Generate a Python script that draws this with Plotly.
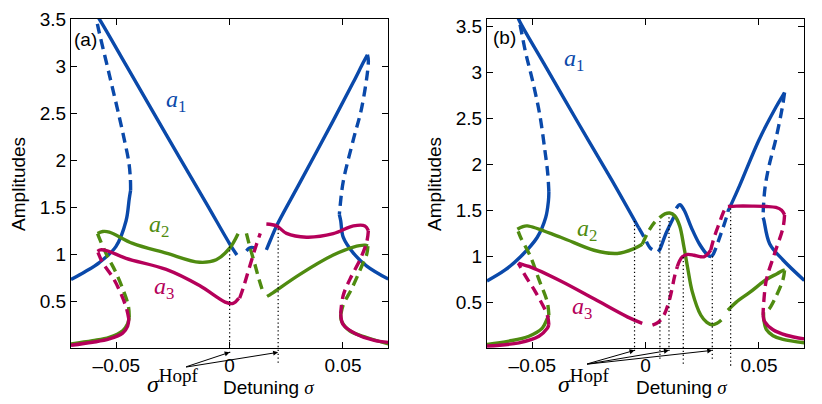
import plotly.graph_objects as go

# ---------------- colours ----------------
BLUE = "#0A49AA"
GREEN = "#4F8B10"
RED = "#B5005A"

# ---------------- panel (a) data : detuning sigma / amplitude ----------------
A_blue_low_left_sig = [-0.0700, -0.0640, -0.0575, -0.0502, -0.0457, -0.0443, -0.0437]
A_blue_low_left_amp = [0.73, 0.81, 0.91, 1.08, 1.355, 1.59, 1.68]
A_blue_unst_left_sig = [-0.0437, -0.0438, -0.0445, -0.0465, -0.0487, -0.0531, -0.0583, -0.0592]
A_blue_unst_left_amp = [1.68, 1.80, 1.98, 2.22, 2.46, 2.91, 3.44, 3.56]
A_blue_high_left_sig = [-0.0592, -0.0575, -0.0457, -0.0280, -0.0103, 0.0000, 0.0032]
A_blue_high_left_amp = [3.56, 3.50, 3.01, 2.27, 1.54, 1.11, 0.99]
A_blue_mid_sig = [0.0074, 0.0086, 0.0098, 0.0110, 0.0121]
A_blue_mid_amp = [1.035, 1.062, 1.072, 1.062, 1.035]
A_blue_high_right_sig = [0.0162, 0.0180, 0.0207, 0.0310, 0.0457, 0.0546, 0.0590, 0.0608]
A_blue_high_right_amp = [1.045, 1.15, 1.30, 1.76, 2.42, 2.83, 3.04, 3.12]
A_blue_unst_right_sig = [0.0608, 0.0612, 0.0583, 0.0546, 0.0501, 0.0487, 0.0484]
A_blue_unst_right_amp = [3.12, 3.05, 2.56, 2.22, 1.77, 1.50, 1.42]
A_blue_low_right_sig = [0.0484, 0.0490, 0.0501, 0.0546, 0.0605, 0.0700]
A_blue_low_right_amp = [1.42, 1.355, 1.18, 1.01, 0.873, 0.734]

A_green_low_left_sig = [-0.0700, -0.0605, -0.0531, -0.0472, -0.0450, -0.0443]
A_green_low_left_amp = [0.045, 0.079, 0.115, 0.185, 0.26, 0.33]
A_green_unst_left_sig = [-0.0443, -0.0447, -0.0470, -0.0505, -0.0540, -0.0570, -0.0583]
A_green_unst_left_amp = [0.33, 0.45, 0.62, 0.82, 0.98, 1.14, 1.22]
A_green_left_sig = [-0.0583, -0.0560, -0.0531, -0.0428, -0.0280, -0.0133, -0.0059, 0.0000, 0.0037]
A_green_left_amp = [1.22, 1.24, 1.234, 1.114, 1.01, 0.913, 0.94, 1.063, 1.217]
A_green_mid_sig = [0.0074, 0.0090, 0.0108, 0.0125, 0.0145]
A_green_mid_amp = [1.22, 1.07, 0.92, 0.77, 0.61]
A_green_right_sig = [0.0165, 0.0185, 0.0310, 0.0457, 0.0546, 0.0597, 0.0610]
A_green_right_amp = [0.55, 0.58, 0.785, 0.99, 1.075, 1.095, 1.085]
A_green_unst_right_sig = [0.0610, 0.0605, 0.0583, 0.0538, 0.0501, 0.0490]
A_green_unst_right_amp = [1.085, 1.00, 0.873, 0.63, 0.46, 0.355]
A_green_low_right_sig = [0.0490, 0.0494, 0.0531, 0.0605, 0.0700]
A_green_low_right_amp = [0.355, 0.286, 0.182, 0.113, 0.045]

A_red_low_left_sig = [-0.0700, -0.0605, -0.0531, -0.0472, -0.0450, -0.0445]
A_red_low_left_amp = [0.030, 0.062, 0.098, 0.160, 0.235, 0.31]
A_red_unst_left_sig = [-0.0445, -0.0455, -0.0480, -0.0515, -0.0560, -0.0583]
A_red_unst_left_amp = [0.31, 0.42, 0.58, 0.75, 0.907, 1.03]
A_red_left_sig = [-0.0583, -0.0570, -0.0540, -0.0457, -0.0280, -0.0133, -0.0020, 0.0015, 0.0040]
A_red_left_amp = [1.03, 1.045, 1.035, 0.955, 0.837, 0.665, 0.49, 0.475, 0.53]
A_red_mid_sig = [0.0044, 0.0060, 0.0080, 0.0100, 0.0118, 0.0135]
A_red_mid_amp = [0.53, 0.64, 0.80, 0.96, 1.10, 1.22]
A_red_right_sig = [0.0162, 0.0207, 0.0251, 0.0339, 0.0457, 0.0546, 0.0597, 0.0612]
A_red_right_amp = [1.32, 1.30, 1.22, 1.18, 1.217, 1.30, 1.30, 1.25]
A_red_unst_right_sig = [0.0612, 0.0605, 0.0575, 0.0531, 0.0501, 0.0490]
A_red_unst_right_amp = [1.25, 1.13, 0.94, 0.734, 0.56, 0.37]
A_red_low_right_sig = [0.0490, 0.0501, 0.0560, 0.0634, 0.0700]
A_red_low_right_amp = [0.37, 0.25, 0.148, 0.086, 0.061]

A_hopf_sig = [0.0, 0.0214]
A_hopf_amp = [1.10, 1.30]

# ---------------- panel (b) data ----------------
B_blue_low_left_sig = [-0.0700, -0.0620, -0.0552, -0.0478, -0.0441, -0.0429, -0.0427]
B_blue_low_left_amp = [0.73, 0.85, 0.994, 1.206, 1.42, 1.60, 1.70]
B_blue_unst_left_sig = [-0.0427, -0.0432, -0.0445, -0.0468, -0.0500, -0.0530, -0.0559, -0.0566]
B_blue_unst_left_amp = [1.70, 1.90, 2.16, 2.55, 2.92, 3.22, 3.57, 3.62]
B_blue_high_left_sig = [-0.0566, -0.0559, -0.0450, -0.0300, -0.0150, -0.0031]
B_blue_high_left_amp = [3.62, 3.57, 3.10, 2.46, 1.83, 1.31]
B_blue_mid_unst_sig = [-0.0031, -0.0005, 0.0020, 0.0050]
B_blue_mid_unst_amp = [1.31, 1.20, 1.09, 1.05]
B_blue_rise_sig = [0.0055, 0.0062, 0.0090, 0.0125]
B_blue_rise_amp = [1.05, 1.072, 1.25, 1.43]
B_blue_peak_sig = [0.0135, 0.0151, 0.0170, 0.0202, 0.0238, 0.0275, 0.0290]
B_blue_peak_amp = [1.52, 1.56, 1.50, 1.31, 1.13, 1.01, 0.995]
B_blue_v_unst_sig = [0.0290, 0.0300, 0.0327, 0.0356, 0.0363]
B_blue_v_unst_amp = [0.995, 1.03, 1.207, 1.42, 1.49]
B_blue_high_right_sig = [0.0363, 0.0383, 0.0415, 0.0500, 0.0574, 0.0603, 0.0613]
B_blue_high_right_amp = [1.49, 1.594, 1.77, 2.265, 2.618, 2.74, 2.78]
B_blue_unst_right_sig = [0.0613, 0.0603, 0.0574, 0.0544, 0.0527, 0.0520, 0.0518]
B_blue_unst_right_amp = [2.78, 2.62, 2.27, 1.98, 1.75, 1.55, 1.42]
B_blue_low_right_sig = [0.0518, 0.0521, 0.0547, 0.0606, 0.0700]
B_blue_low_right_amp = [1.42, 1.40, 1.136, 0.959, 0.737]

B_green_low_left_sig = [-0.0700, -0.0603, -0.0515, -0.0456, -0.0434, -0.0427]
B_green_low_left_amp = [0.041, 0.076, 0.129, 0.217, 0.323, 0.359]
B_green_unst_left_sig = [-0.0427, -0.0434, -0.0471, -0.0508, -0.0552, -0.0566]
B_green_unst_left_amp = [0.359, 0.50, 0.747, 0.995, 1.207, 1.294]
B_green_left_sig = [-0.0566, -0.0545, -0.0522, -0.0375, -0.0228, -0.0125, -0.0051, -0.0015]
B_green_left_amp = [1.294, 1.32, 1.33, 1.206, 1.065, 1.03, 1.083, 1.13]
B_green_mid_unst_sig = [-0.0015, 0.0010, 0.0040, 0.0062]
B_green_mid_unst_amp = [1.13, 1.26, 1.37, 1.42]
B_green_peak_sig = [0.0062, 0.0085, 0.0106, 0.0128, 0.0150, 0.0169, 0.0187, 0.0205, 0.0243, 0.0270, 0.0294, 0.0315, 0.0334]
B_green_peak_amp = [1.42, 1.46, 1.47, 1.44, 1.33, 1.10, 0.85, 0.62, 0.36, 0.28, 0.253, 0.27, 0.306]
B_green_right_sig = [0.0363, 0.0400, 0.0459, 0.0533, 0.0580, 0.0606, 0.0613]
B_green_right_amp = [0.412, 0.50, 0.606, 0.747, 0.81, 0.846, 0.846]
B_green_unst_right_sig = [0.0613, 0.0606, 0.0577, 0.0540, 0.0522]
B_green_unst_right_amp = [0.846, 0.747, 0.571, 0.412, 0.39]
B_green_low_right_sig = [0.0520, 0.0522, 0.0533, 0.0562, 0.0606, 0.0700]
B_green_low_right_amp = [0.39, 0.30, 0.20, 0.135, 0.094, 0.058]

B_red_low_left_sig = [-0.0700, -0.0559, -0.0471, -0.0434, -0.0427]
B_red_low_left_amp = [0.023, 0.058, 0.129, 0.217, 0.253]
B_red_unst_left_sig = [-0.0427, -0.0434, -0.0485, -0.0530, -0.0552, -0.0562]
B_red_unst_left_amp = [0.253, 0.359, 0.606, 0.783, 0.88, 0.924]
B_red_left_sig = [-0.0562, -0.0545, -0.0515, -0.0375, -0.0228, -0.0081, -0.0015]
B_red_left_amp = [0.924, 0.91, 0.889, 0.73, 0.536, 0.34, 0.27]
B_red_mid_unst_sig = [0.0030, 0.0055, 0.0081, 0.0106, 0.0128, 0.0140]
B_red_mid_unst_amp = [0.25, 0.28, 0.36, 0.535, 0.783, 0.889]
B_red_mid_sig = [0.0140, 0.0150, 0.0162, 0.0185, 0.0213, 0.0240, 0.0257, 0.0272, 0.0287]
B_red_mid_amp = [0.889, 0.95, 0.994, 1.02, 1.01, 0.995, 0.994, 1.02, 1.065]
B_red_v_unst_sig = [0.0287, 0.0297, 0.0310, 0.0325, 0.0340, 0.0352, 0.0363]
B_red_v_unst_amp = [1.065, 1.16, 1.26, 1.36, 1.46, 1.52, 1.54]
B_red_flat_sig = [0.0363, 0.0400, 0.0470, 0.0533, 0.0575, 0.0600, 0.0613]
B_red_flat_amp = [1.54, 1.545, 1.545, 1.541, 1.53, 1.50, 1.45]
B_red_unst_right_sig = [0.0613, 0.0606, 0.0569, 0.0533, 0.0521, 0.0518]
B_red_unst_right_amp = [1.45, 1.31, 1.03, 0.747, 0.50, 0.36]
B_red_low_right_sig = [0.0518, 0.0525, 0.0562, 0.0621, 0.0700]
B_red_low_right_amp = [0.36, 0.288, 0.20, 0.14, 0.10]

B_hopf_sig = [-0.0049, 0.0063, 0.0103, 0.0166, 0.0294, 0.0375]
B_hopf_amp = [1.40, 1.40, 1.45, 0.99, 1.00, 1.52]

X_TICKS = [-0.05, 0.0, 0.05]
X_TICK_TEXT = ["\u20130.05", "0", "0.05"]
Y_TICKS = [0.5, 1.0, 1.5, 2.0, 2.5, 3.0, 3.5]
Y_TICK_TEXT = ["0.5", "1", "1.5", "2", "2.5", "3", "3.5"]

# ---------------- layout geometry ----------------
W, H = 822, 404
XA_DOM = [71 / W, 388.3 / W]
XB_DOM = [487 / W, 804.3 / W]
Y_DOM = [1 - 346.7 / H, 1 - 9.3 / H]
X_RANGE = [-0.07, 0.07]
YA_RANGE = [0.0, 3.5]
YB_RANGE = [0.0, 3.58]

LW = 3.4
DASH = "10px,6px"

fig = go.Figure()


def add_branch(sig, amp, color, dashed, xa, ya):
    fig.add_trace(go.Scatter(
        x=sig, y=amp, mode="lines", xaxis=xa, yaxis=ya,
        line=dict(color=color, width=LW, dash=DASH if dashed else "solid",
                  shape="spline", smoothing=1.0),
        hoverinfo="skip", showlegend=False))


panel_a = [
    (A_blue_low_left_sig, A_blue_low_left_amp, BLUE, False),
    (A_blue_unst_left_sig, A_blue_unst_left_amp, BLUE, True),
    (A_blue_high_left_sig, A_blue_high_left_amp, BLUE, False),
    (A_blue_mid_sig, A_blue_mid_amp, BLUE, True),
    (A_blue_high_right_sig, A_blue_high_right_amp, BLUE, False),
    (A_blue_unst_right_sig, A_blue_unst_right_amp, BLUE, True),
    (A_blue_low_right_sig, A_blue_low_right_amp, BLUE, False),
    (A_green_low_left_sig, A_green_low_left_amp, GREEN, False),
    (A_green_unst_left_sig, A_green_unst_left_amp, GREEN, True),
    (A_green_left_sig, A_green_left_amp, GREEN, False),
    (A_green_mid_sig, A_green_mid_amp, GREEN, True),
    (A_green_right_sig, A_green_right_amp, GREEN, False),
    (A_green_unst_right_sig, A_green_unst_right_amp, GREEN, True),
    (A_green_low_right_sig, A_green_low_right_amp, GREEN, False),
    (A_red_low_left_sig, A_red_low_left_amp, RED, False),
    (A_red_unst_left_sig, A_red_unst_left_amp, RED, True),
    (A_red_left_sig, A_red_left_amp, RED, False),
    (A_red_mid_sig, A_red_mid_amp, RED, True),
    (A_red_right_sig, A_red_right_amp, RED, False),
    (A_red_unst_right_sig, A_red_unst_right_amp, RED, True),
    (A_red_low_right_sig, A_red_low_right_amp, RED, False),
]
panel_b = [
    (B_blue_low_left_sig, B_blue_low_left_amp, BLUE, False),
    (B_blue_unst_left_sig, B_blue_unst_left_amp, BLUE, True),
    (B_blue_high_left_sig, B_blue_high_left_amp, BLUE, False),
    (B_blue_mid_unst_sig, B_blue_mid_unst_amp, BLUE, True),
    (B_blue_rise_sig, B_blue_rise_amp, BLUE, False),
    (B_blue_peak_sig, B_blue_peak_amp, BLUE, False),
    (B_blue_v_unst_sig, B_blue_v_unst_amp, BLUE, True),
    (B_blue_high_right_sig, B_blue_high_right_amp, BLUE, False),
    (B_blue_unst_right_sig, B_blue_unst_right_amp, BLUE, True),
    (B_blue_low_right_sig, B_blue_low_right_amp, BLUE, False),
    (B_green_low_left_sig, B_green_low_left_amp, GREEN, False),
    (B_green_unst_left_sig, B_green_unst_left_amp, GREEN, True),
    (B_green_left_sig, B_green_left_amp, GREEN, False),
    (B_green_mid_unst_sig, B_green_mid_unst_amp, GREEN, True),
    (B_green_peak_sig, B_green_peak_amp, GREEN, False),
    (B_green_right_sig, B_green_right_amp, GREEN, False),
    (B_green_unst_right_sig, B_green_unst_right_amp, GREEN, True),
    (B_green_low_right_sig, B_green_low_right_amp, GREEN, False),
    (B_red_low_left_sig, B_red_low_left_amp, RED, False),
    (B_red_unst_left_sig, B_red_unst_left_amp, RED, True),
    (B_red_left_sig, B_red_left_amp, RED, False),
    (B_red_mid_unst_sig, B_red_mid_unst_amp, RED, True),
    (B_red_mid_sig, B_red_mid_amp, RED, False),
    (B_red_v_unst_sig, B_red_v_unst_amp, RED, True),
    (B_red_flat_sig, B_red_flat_amp, RED, False),
    (B_red_unst_right_sig, B_red_unst_right_amp, RED, True),
    (B_red_low_right_sig, B_red_low_right_amp, RED, False),
]
for s, a, c, d in panel_a:
    add_branch(s, a, c, d, "x", "y")
for s, a, c, d in panel_b:
    add_branch(s, a, c, d, "x2", "y2")


def y_to_paper(v, rng):
    return Y_DOM[0] + (v - rng[0]) / (rng[1] - rng[0]) * (Y_DOM[1] - Y_DOM[0])


def px_y(py):
    return 1 - py / H


def px_x(px):
    return px / W


shapes = []
A_DROP = [5, 15]                 # px that the dotted lines run below the axis
B_DROP = [3, 11, 3, 16, 11, 18]
for s, a, d in zip(A_hopf_sig, A_hopf_amp, A_DROP):
    shapes.append(dict(type="line", xref="x", yref="paper", x0=s, x1=s,
                       y0=Y_DOM[0] - d / H, y1=y_to_paper(a, YA_RANGE),
                       line=dict(color="black", width=1.2, dash="1.3px,2.6px")))
for s, a, d in zip(B_hopf_sig, B_hopf_amp, B_DROP):
    shapes.append(dict(type="line", xref="x2", yref="paper", x0=s, x1=s,
                       y0=Y_DOM[0] - d / H, y1=y_to_paper(a, YB_RANGE),
                       line=dict(color="black", width=1.2, dash="1.3px,2.6px")))

SANS = "Liberation Sans, Arial, sans-serif"
SERIF = "Liberation Serif, Times New Roman, serif"

annotations = []
# arrows from sigma^Hopf label to Hopf points
for s in A_hopf_sig:
    annotations.append(dict(x=s, y=px_y(351), xref="x", yref="paper",
                            ax=-0.0199, axref="x", ay=15, ayref="pixel",
                            text="", showarrow=True, arrowhead=2, arrowsize=1,
                            arrowwidth=1, arrowcolor="black"))
for s in [B_hopf_sig[0], B_hopf_sig[2], B_hopf_sig[4]]:
    annotations.append(dict(x=s, y=px_y(349), xref="x2", yref="paper",
                            ax=-0.0265, axref="x2", ay=14, ayref="pixel",
                            text="", showarrow=True, arrowhead=2, arrowsize=1,
                            arrowwidth=1, arrowcolor="black"))


def txt(text, px, py, size, color="black", family=SANS, angle=0):
    annotations.append(dict(text=text, x=px_x(px), y=px_y(py), xref="paper", yref="paper",
                            showarrow=False, xanchor="center", yanchor="middle",
                            textangle=angle,
                            font=dict(family=family, size=size, color=color)))


hopf = "<i>σ</i><sup><span style='font-size:19px'>Hopf</span></sup>"
detune = "Detuning <span style='font-family:Liberation Serif'><i>σ</i></span>"
for cx, dx, ylx in [(173, 268, 18.3), (584, 681, 434.3)]:
    txt(hopf, cx, 380, 24, family=SERIF)
    txt(detune, dx, 387, 19)
    txt("Amplitudes", ylx, 178, 19, angle=-90)
txt("(a)", 85, 30, 19)
txt("(b)", 504.3, 28.3, 19)

# curve labels (data coordinates)
for xr, yr, lx, ly, lab, col in [
    ("x", "y", -0.0236, 2.63, "1", BLUE), ("x", "y", -0.0310, 1.30, "2", GREEN),
    ("x", "y", -0.0288, 0.64, "3", RED),
    ("x2", "y2", -0.0316, 3.14, "1", BLUE), ("x2", "y2", -0.0257, 1.29, "2", GREEN),
    ("x2", "y2", -0.0279, 0.44, "3", RED)]:
    annotations.append(dict(text="<i>a</i><sub>" + lab + "</sub>", x=lx, y=ly,
                            xref=xr, yref=yr, showarrow=False,
                            font=dict(family=SERIF, size=24, color=col)))

axis_common = dict(showline=True, linecolor="black", linewidth=1.2, mirror="ticks",
                   ticks="inside", ticklen=6, tickwidth=1, tickcolor="black",
                   showgrid=False, zeroline=False,
                   tickfont=dict(family=SANS, size=19, color="black"))

fig.update_layout(
    width=W, height=H, margin=dict(l=0, r=0, t=0, b=0),
    paper_bgcolor="white", plot_bgcolor="white", showlegend=False,
    xaxis=dict(domain=XA_DOM, range=X_RANGE, anchor="y", tickvals=X_TICKS,
               ticktext=X_TICK_TEXT, **axis_common),
    yaxis=dict(domain=Y_DOM, range=YA_RANGE, anchor="x", tickvals=Y_TICKS,
               ticktext=Y_TICK_TEXT, **axis_common),
    xaxis2=dict(domain=XB_DOM, range=X_RANGE, anchor="y2", tickvals=X_TICKS,
                ticktext=X_TICK_TEXT, **axis_common),
    yaxis2=dict(domain=Y_DOM, range=YB_RANGE, anchor="x2", tickvals=Y_TICKS,
                ticktext=Y_TICK_TEXT, **axis_common),
    shapes=shapes, annotations=annotations,
)

fig.write_html("out.html", config={"displayModeBar": False},
               post_script="document.body.style.margin='0px';document.body.style.overflow='hidden';")
